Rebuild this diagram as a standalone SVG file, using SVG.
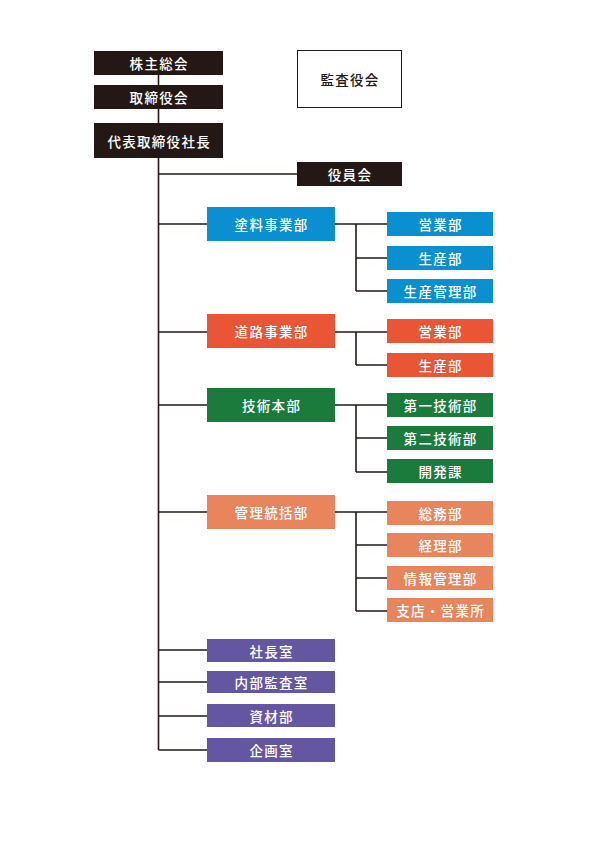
<svg xmlns="http://www.w3.org/2000/svg" width="596" height="842" viewBox="0 0 596 842">
<style>
text{font-family:"Noto Sans CJK JP","Noto Sans",sans-serif;font-size:13.5px;font-weight:500;letter-spacing:1.3px;text-anchor:middle;dominant-baseline:central;fill:#fff}
.k{fill:#231815}
.b{fill:#0a8fd0}
.r{fill:#e95535}
.g{fill:#1b7b3d}
.s{fill:#e9855d}
.p{fill:#6556a1}
.ln{stroke:#231815;stroke-width:1.6;fill:none}
.dark{fill:#231815}
</style>
<g id="connectors" class="ln">
<path d="M158.5 75V750"/>
<path d="M158.5 174H297"/>
<path d="M158.5 224H207M158.5 332H207M158.5 405H207M158.5 512H207M158.5 650H207M158.5 682H207M158.5 716H207M158.5 750H207"/>
<path d="M335 224H387M356 224V291M356 258H387M356 291H387"/>
<path d="M335 332H387M356 332V365M356 365H387"/>
<path d="M335 405H387M356 405V472M356 438H387M356 472H387"/>
<path d="M335 512H387M356 512V611M356 545H387M356 578H387M356 611H387"/>
</g>
<g id="n1"><rect class="k" x="94" y="51" width="129" height="24"/><text x="159.2" y="63">株主総会</text></g>
<g id="n2"><rect class="k" x="94" y="85" width="129" height="24"/><text x="159.2" y="97">取締役会</text></g>
<g id="n3"><rect class="k" x="94" y="123" width="129" height="35"/><text x="159.2" y="140.5">代表取締役社長</text></g>
<g id="n4"><rect x="297.5" y="50.5" width="104" height="57" fill="#fff" stroke="#231815" stroke-width="1"/><text class="dark" x="350" y="79">監査役会</text></g>
<g id="n5"><rect class="k" x="297" y="162" width="105" height="24"/><text x="350" y="174">役員会</text></g>
<g id="n6"><rect class="b" x="207" y="207" width="128" height="34"/><text x="271.6" y="224">塗料事業部</text></g>
<g id="n7"><rect class="b" x="387" y="212" width="106" height="24"/><text x="440.6" y="224">営業部</text></g>
<g id="n8"><rect class="b" x="387" y="246" width="106" height="24"/><text x="440.6" y="258">生産部</text></g>
<g id="n9"><rect class="b" x="387" y="279" width="106" height="24"/><text x="440.6" y="291">生産管理部</text></g>
<g id="n10"><rect class="r" x="207" y="314" width="128" height="34"/><text x="271.6" y="331">道路事業部</text></g>
<g id="n11"><rect class="r" x="387" y="319" width="106" height="24"/><text x="440.6" y="331">営業部</text></g>
<g id="n12"><rect class="r" x="387" y="353" width="106" height="24"/><text x="440.6" y="365">生産部</text></g>
<g id="n13"><rect class="g" x="207" y="388" width="128" height="34"/><text x="271.6" y="405">技術本部</text></g>
<g id="n14"><rect class="g" x="387" y="393" width="106" height="24"/><text x="440.6" y="405">第一技術部</text></g>
<g id="n15"><rect class="g" x="387" y="426" width="106" height="24"/><text x="440.6" y="438">第二技術部</text></g>
<g id="n16"><rect class="g" x="387" y="459" width="106" height="24"/><text x="440.6" y="471">開発課</text></g>
<g id="n17"><rect class="s" x="207" y="495" width="128" height="34"/><text x="271.6" y="512">管理統括部</text></g>
<g id="n18"><rect class="s" x="387" y="501" width="106" height="24"/><text x="440.6" y="513">総務部</text></g>
<g id="n19"><rect class="s" x="387" y="533" width="106" height="24"/><text x="440.6" y="545">経理部</text></g>
<g id="n20"><rect class="s" x="387" y="566" width="106" height="24"/><text x="440.6" y="578">情報管理部</text></g>
<g id="n21"><rect class="s" x="387" y="598" width="106" height="24"/><text x="440.6" y="610">支店・営業所</text></g>
<g id="n22"><rect class="p" x="207" y="639" width="128" height="23"/><text x="271.6" y="650.5">社長室</text></g>
<g id="n23"><rect class="p" x="207" y="671" width="128" height="22"/><text x="271.6" y="682">内部監査室</text></g>
<g id="n24"><rect class="p" x="207" y="704" width="128" height="23"/><text x="271.6" y="715.5">資材部</text></g>
<g id="n25"><rect class="p" x="207" y="738" width="128" height="24"/><text x="271.6" y="750">企画室</text></g>
</svg>
